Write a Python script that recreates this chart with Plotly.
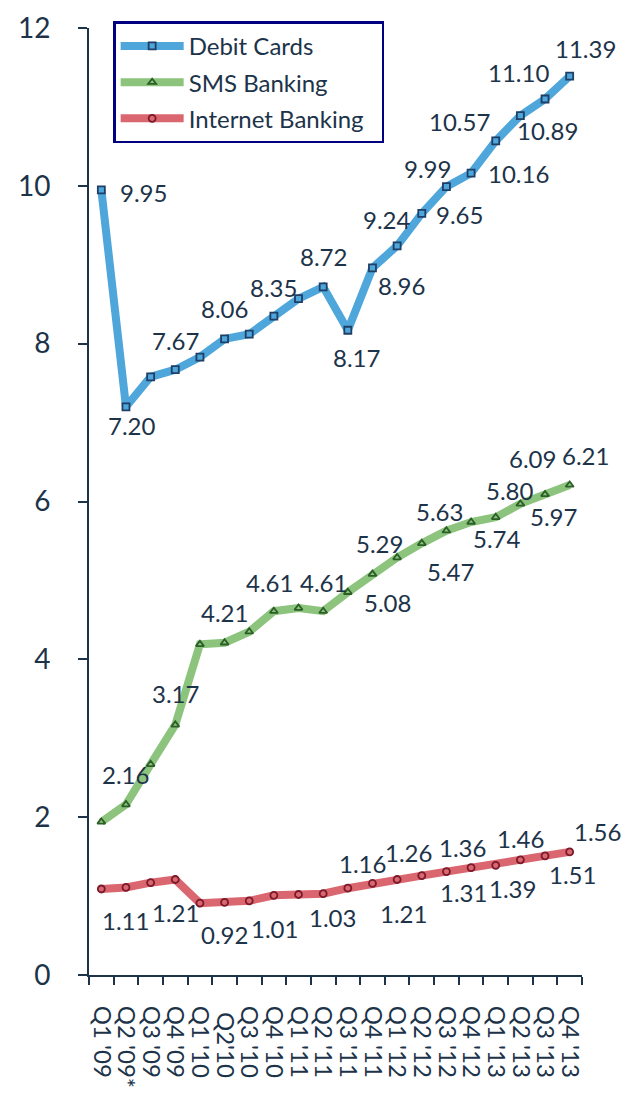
import plotly.graph_objects as go

# ---------------- data ----------------
quarters = ["Q1 '09", "Q2 '09*", "Q3 '09", "Q4 '09", "Q1 '10", "\u00a0Q2'10",
            "Q3 '10", "Q4 '10", "Q1 '11", "Q2 '11", "Q3 '11", "Q4 '11",
            "Q1 '12", "Q2 '12", "Q3 '12", "Q4 '12", "Q1 '13", "Q2 '13",
            "Q3 '13", "Q4 '13"]

debit_cards = [9.95, 7.20, 7.58, 7.67, 7.83, 8.06, 8.12, 8.35, 8.57, 8.72,
               8.17, 8.96, 9.24, 9.65, 9.99, 10.16, 10.57, 10.89, 11.10, 11.39]
sms_banking = [1.94, 2.16, 2.67, 3.17, 4.19, 4.21, 4.35, 4.61, 4.65, 4.61,
               4.85, 5.08, 5.29, 5.47, 5.63, 5.74, 5.80, 5.97, 6.09, 6.21]
internet_banking = [1.09, 1.11, 1.17, 1.21, 0.91, 0.92, 0.94, 1.01, 1.02, 1.03,
                    1.10, 1.16, 1.21, 1.26, 1.31, 1.36, 1.39, 1.46, 1.51, 1.56]

y_ticks = [0, 2, 4, 6, 8, 10, 12]

# label offsets in screen px (dx right, dy down); None = no label
debit_label_off = [(42, 3), (6, 19), None, (0, -29), None, (0, -30), None, (0, -29),
                   None, (0, -30), (9, 27), (29, 18), (-10, -26), (38, 1),
                   (-19, -18), (47, 0), (-36, -19), (27, 15), (-27, -27), (16, -28)]
sms_label_off = [None, (0, -30), None, (0, -31), None, (0, -30), None, (-4, -29),
                 None, (0, -29), None, (15, 28), (-18, -14), (29, 28), (-7, -19),
                 (26, 16), (14, -27), (33, 13), (-13, -36), (16, -29)]
internet_label_off = [None, (0, 33), None, (0, 33), None, (0, 32), None, (1, 33),
                      None, (9, 24), None, (-10, -20), (6, 34), (-13, -23),
                      (17, 21), (-9, -20), (17, 23), (0, -21), (27, 19), (28, -20)]

TEXT = "#1C3349"
FONT = "Lato"

series = [
    ("Debit Cards", debit_cards, "#4EA6DA", "square", "#1F3F66", debit_label_off),
    ("SMS Banking", sms_banking, "#8CC47D", "triangle-up", "#2C5E28", sms_label_off),
    ("Internet Banking\u00a0\u00a0", internet_banking, "#DA6670", "circle", "#7A1A2A", internet_label_off),
]

fig = go.Figure()
annotations = []
for i, (name, vals, col, sym, edge, offs) in enumerate(series):
    fig.add_trace(go.Scatter(
        x=quarters, y=vals, name=name, mode="lines+markers",
        legendgroup=f"g{i}",
        line=dict(color=col, width=8),
        marker=dict(symbol=sym, size=7, color=col, line=dict(color=edge, width=1.8)),
    ))
    for q, v, o in zip(quarters, vals, offs):
        if o is None:
            continue
        annotations.append(dict(
            x=q, y=v, xref="x", yref="y", text=f"{v:.2f}", showarrow=False,
            xshift=o[0], yshift=-o[1], font=dict(family=FONT, size=24, color=TEXT),
        ))

fig.update_layout(
    width=635, height=1095,
    margin=dict(l=81, r=61, t=20, b=128),
    paper_bgcolor="white", plot_bgcolor="white",
    font=dict(family=FONT, color=TEXT),
    showlegend=True,
    legend=dict(
        x=0.049, y=1.007, xanchor="left", yanchor="top",
        bgcolor="white", bordercolor="#000080", borderwidth=2.5,
        font=dict(family=FONT, size=24, color=TEXT),
        itemwidth=63, traceorder="grouped", tracegroupgap=2,
    ),
    annotations=annotations,
)
fig.update_xaxes(
    type="category", range=[-0.5, 19.5], dtick=1, automargin=False,
    showline=True, linecolor=TEXT, linewidth=2,
    ticks="outside", tickson="boundaries", ticklen=8, tickwidth=2, tickcolor=TEXT,
    tickangle=90, ticklabelstandoff=24,
    tickfont=dict(family=FONT, size=24, color=TEXT),
    showgrid=False, zeroline=False,
)
fig.update_yaxes(
    range=[0, 12], tickvals=y_ticks, automargin=False,
    showline=True, linecolor=TEXT, linewidth=2,
    ticks="outside", ticklen=9, tickwidth=2, tickcolor=TEXT,
    ticklabelstandoff=22,
    tickfont=dict(family=FONT, size=28, color=TEXT),
    showgrid=False, zeroline=False,
)

fig.write_html("out.html")
